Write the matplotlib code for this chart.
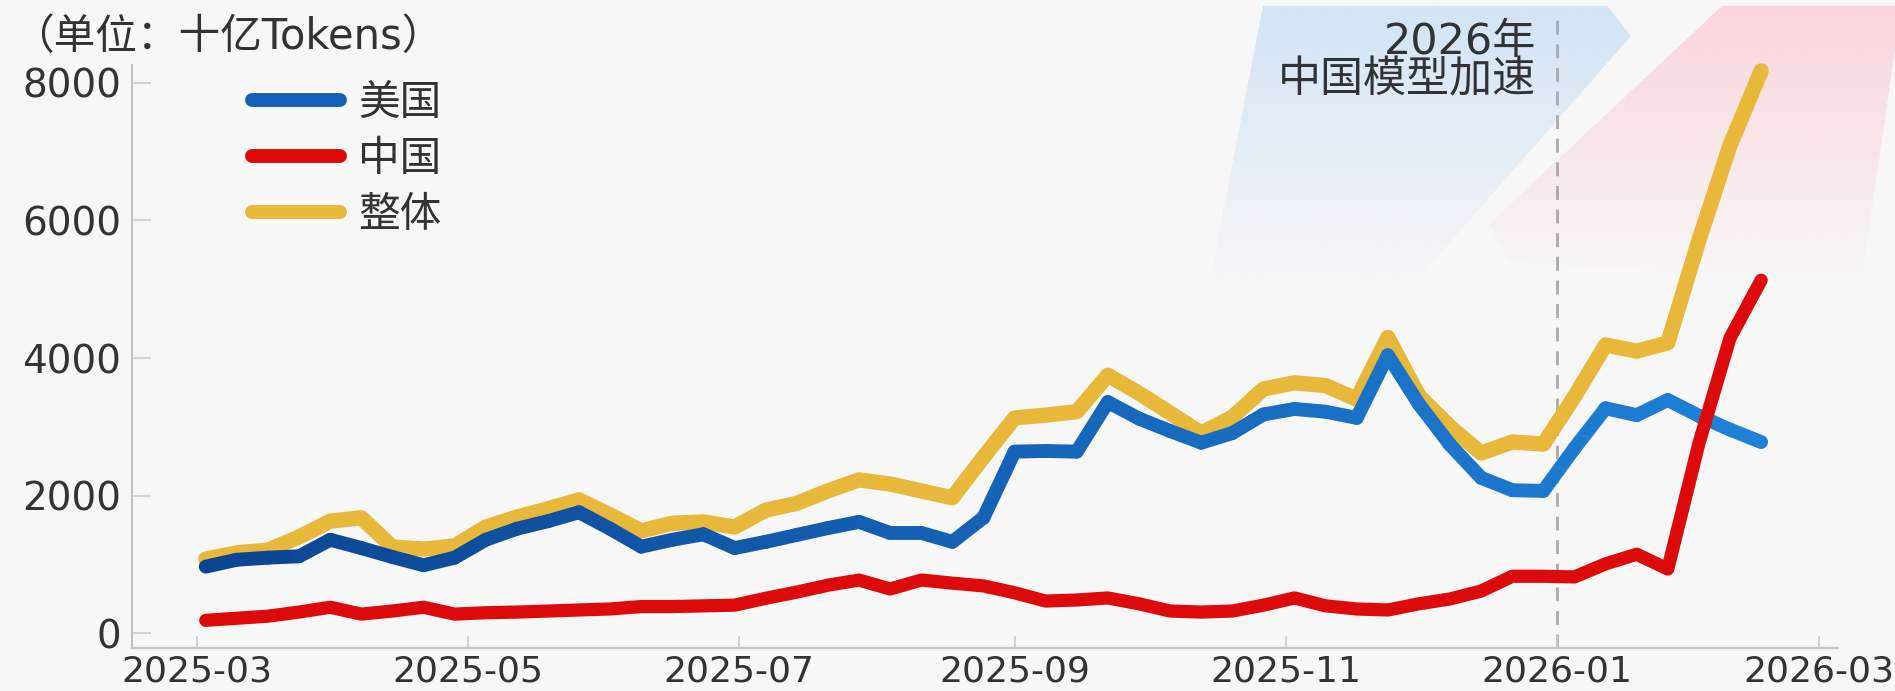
import numpy as np
import pandas as pd
import matplotlib
matplotlib.use("Agg")
import matplotlib.pyplot as plt
import matplotlib.dates as mdates
from matplotlib.collections import LineCollection
from matplotlib.lines import Line2D
from matplotlib.patches import Polygon
from matplotlib.colors import to_rgb

plt.rcParams['font.family'] = ['DejaVu Sans', 'Noto Sans CJK SC']

# weekly series, 十亿 tokens
weeks = pd.date_range("2025-03-03", periods=51, freq="7D")

us = [970, 1070, 1100, 1120, 1360, 1240, 1110, 990, 1100, 1360,
      1520, 1630, 1760, 1520, 1260, 1360, 1440, 1240, 1330, 1430,
      1530, 1620, 1460, 1460, 1330, 1680, 2640, 2650, 2640, 3360,
      3120, 2940, 2770, 2910, 3180, 3260, 3220, 3130, 4040, 3330,
      2740, 2260, 2080, 2070, 2690, 3270, 3170, 3390, 3160, 2960, 2780]

cn = [190, 220, 250, 310, 380, 280, 325, 380, 280, 300,
      310, 325, 340, 355, 390, 390, 400, 410, 510, 600,
      700, 775, 645, 775, 730, 690, 590, 470, 485, 515,
      430, 325, 310, 325, 410, 515, 400, 355, 340, 430,
      500, 615, 830, 830, 820, 1010, 1150, 935, 2760, 4290, 5130]

total = [1080, 1170, 1210, 1400, 1630, 1680, 1255, 1225, 1270, 1545,
         1690, 1810, 1940, 1720, 1490, 1600, 1620, 1545, 1790, 1890,
         2070, 2230, 2170, 2070, 1970, 2560, 3130, 3170, 3220, 3750,
         3490, 3200, 2910, 3140, 3550, 3640, 3600, 3400, 4300, 3450,
         3000, 2620, 2780, 2750, 3440, 4190, 4100, 4220, 5710, 7090, 8170]

labels = ["美国", "中国", "整体"]
yticks = [0, 2000, 4000, 6000, 8000]

BG = "#f7f7f7"
BLUE_DARK = "#0b4592"
BLUE_LIGHT = "#1f80d8"
RED = "#dc0a0a"
GOLD = "#e8b83a"
TXT = "#333333"

W, H = 1895, 691
fig = plt.figure(figsize=(W / 100, H / 100), dpi=100, facecolor=BG)

# decorative shaded bands in the top right
bg = fig.add_axes([0, 0, 1, 1], zorder=0)
bg.axis("off")


def shade(verts, color, a_top, a_bot):
    xs = [v[0] for v in verts]
    ys = [v[1] for v in verts]
    rgba = np.zeros((256, 1, 4))
    rgba[..., :3] = to_rgb(color)
    rgba[..., 3] = np.linspace(a_top, a_bot, 256)[:, None]
    im = bg.imshow(rgba, extent=(min(xs), max(xs), max(ys), min(ys)),
                   origin="upper", aspect="auto", interpolation="bilinear")
    poly = Polygon(verts, closed=True, facecolor="none", edgecolor="none",
                   transform=bg.transData)
    bg.add_patch(poly)
    im.set_clip_path(poly)


shade([(1263, 6), (1607, 6), (1631, 36), (1408, 290), (1208, 290)],
      "#cfe2f4", 0.9, 0.0)
shade([(1722, 6), (1895, 6), (1895, 50), (1861, 284), (1510, 262), (1489, 224)],
      "#f9cdd4", 0.8, 0.0)
bg.set_xlim(0, W)
bg.set_ylim(H, 0)

ax = fig.add_axes([132 / W, 1 - 648 / H, (1838 - 132) / W, (648 - 65) / H],
                  zorder=1)
ax.set_facecolor("none")

x = mdates.date2num(weeks.to_pydatetime())

ax.plot(x, total, color=GOLD, lw=11, solid_capstyle="round",
        solid_joinstyle="round", clip_on=False, zorder=2)

# blue line fades from navy to bright blue
pts = np.column_stack([x, us])
segs = np.stack([pts[:-1], pts[1:]], axis=1)
c0, c1 = np.array(to_rgb(BLUE_DARK)), np.array(to_rgb(BLUE_LIGHT))
t = np.linspace(0, 1, len(segs))[:, None]
lc = LineCollection(segs, colors=c0 * (1 - t) + c1 * t, linewidths=10,
                    capstyle="round", joinstyle="round", zorder=3)
ax.add_collection(lc)

ax.plot(x, cn, color=RED, lw=9.5, solid_capstyle="round",
        solid_joinstyle="round", zorder=4)

start = mdates.date2num(pd.Timestamp("2025-03-01"))
ax.set_xlim(start - 14.6, start + 369.3)
ax.set_ylim(-212, 8256)
ax.set_yticks(yticks)
ax.xaxis.set_major_locator(mdates.MonthLocator(bymonth=[1, 3, 5, 7, 9, 11]))
ax.xaxis.set_major_formatter(mdates.DateFormatter("%Y-%m"))

for s in ["top", "right"]:
    ax.spines[s].set_visible(False)
for s in ["left", "bottom"]:
    ax.spines[s].set_color("#c4c4c4")
    ax.spines[s].set_linewidth(1.6)

ax.tick_params(axis="y", direction="in", length=14, width=1.2, color="#cccccc",
               labelcolor=TXT, labelsize=28, pad=8)
ax.tick_params(axis="x", direction="in", length=9, width=1.2, color="#cccccc",
               labelcolor=TXT, labelsize=26, pad=5)

jan = mdates.date2num(pd.Timestamp("2026-01-01"))
ax.axvline(jan, ymin=0, ymax=1 + 50 / 583, clip_on=False, color="#aaaaaa",
           lw=2, ls=(0, (5, 3.5)), zorder=1)

fig.text(12 / W, 1 - 37 / H, "（单位：十亿Tokens）", fontsize=30, color=TXT,
         ha="left", va="center")
fig.text(1536 / W, 1 - 42 / H, "2026年", fontsize=31, color=TXT,
         ha="right", va="center")
fig.text(1536 / W, 1 - 80 / H, "中国模型加速", fontsize=31, color=TXT,
         ha="right", va="center")

handles = [Line2D([0], [0], color="#1560b8", lw=10, solid_capstyle="round"),
           Line2D([0], [0], color=RED, lw=10, solid_capstyle="round"),
           Line2D([0], [0], color=GOLD, lw=10, solid_capstyle="round")]
leg = ax.legend(handles, labels, loc="upper left",
                bbox_to_anchor=(252 / W, 1 - 82 / H), bbox_transform=fig.transFigure,
                frameon=False, fontsize=30, handlelength=2.1, handletextpad=0.45,
                labelspacing=0.33, borderpad=0, borderaxespad=0)
for txt in leg.get_texts():
    txt.set_color(TXT)

fig.savefig("out.png", dpi=100, facecolor=BG)
